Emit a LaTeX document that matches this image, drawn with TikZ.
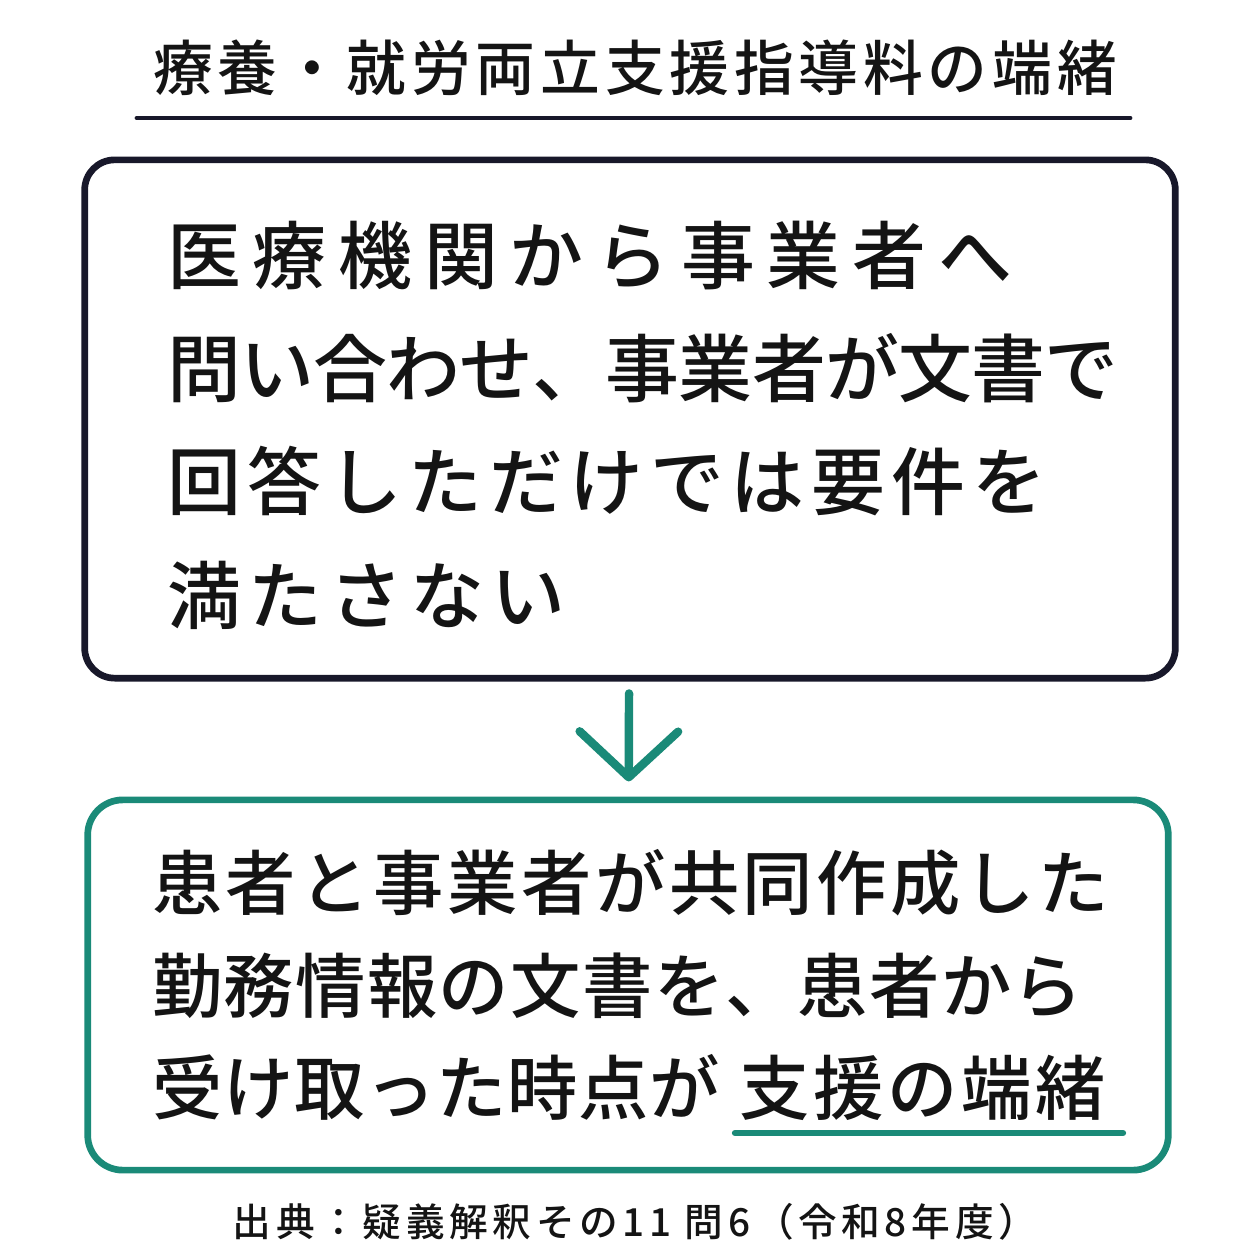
\documentclass[tikz,border=0pt]{standalone}
\usepackage{fontspec}
\setmainfont{Noto Sans CJK JP Medium}
\usetikzlibrary{arrows.meta}
\definecolor{inkdark}{RGB}{24,24,42}
\definecolor{inkteal}{RGB}{26,138,120}
\newcommand{\lsp}[2]{{\addfontfeature{LetterSpace=#1}#2}}

\begin{document}
\begin{tikzpicture}[x=0.01cm,y=-0.01cm,
  frame/.style={shape=rectangle,draw,line width=1.9pt,inner sep=0pt},
  bodytext/.style={anchor=west,align=left,inner sep=0pt,text=black!92},
  flowarrow/.style={draw=inkteal,line width=2.4pt,line cap=round,
    -{Straight Barb[length=13pt,width=28pt,round]}}]
\useasboundingbox[fill=white] (0,0) rectangle (1254,1254);

\path (635,68) node (title) [text=black!92,font=\fontsize{17pt}{20pt}\selectfont] {\lsp{8}{療養・就労両立支援指導料の端緒}};
\draw[inkdark,line width=1.4pt,line cap=round] (137,118) -- (1130,118);

\path (630,419) node (box1) [frame,draw=inkdark,rounded corners=0.3cm,minimum width=10.9cm,minimum height=5.18cm] {};
\path ([xshift=0.85cm,yshift=-0.06cm]box1.west) node (box1text) [bodytext,font=\fontsize{21pt}{32.2pt}\selectfont]
  {\lsp{16}{医療機関から事業者へ}\\ \lsp{-1}{問い合わせ、事業者が文書で}\\ \lsp{9}{回答しただけでは要件を}\\ \lsp{10}{満たさない}};

\path (628,985) node (box2) [frame,draw=inkteal,rounded corners=0.35cm,minimum width=10.8cm,minimum height=3.7cm] {};
\path ([xshift=0.67cm]box2.west) node (box2text) [bodytext,font=\fontsize{20pt}{29.2pt}\selectfont]
  {\lsp{5}{患者と事業者が共同作成した}\\ \lsp{2}{勤務情報の文書を、患者から}\\ \lsp{1}{受け取った時点が}\hspace{0.2cm}\lsp{5}{支援の端緒}};
\draw[inkteal,line width=1.8pt,line cap=round] (735,1133) -- (1123,1133);

\draw[flowarrow,shorten <=3.4pt,shorten >=4.3pt] (box1) -- (box2);

\path (635,1222) node (source) [text=black!92,font=\fontsize{11pt}{13pt}\selectfont] {\lsp{12}{出典：疑義解釈その11 問6（令和8年度）}};
\end{tikzpicture}
\end{document}
